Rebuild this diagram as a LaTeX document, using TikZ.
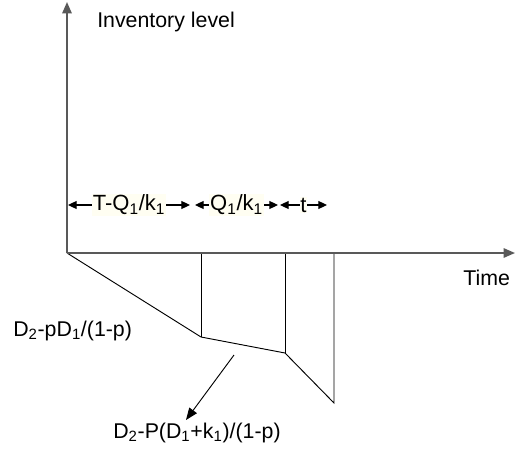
\documentclass[tikz,border=0pt]{standalone}
\usepackage{fontspec}
\setmainfont{Liberation Sans}
\usetikzlibrary{arrows.meta}
\tikzset{
  axis/.style={draw=black!65, line width=1.3pt, -{Triangle[length=8.5pt,width=7pt]}},
  curve/.style={draw=black, line width=0.7pt},
  dim/.style={line width=0.8pt, {Triangle[length=6.5pt,width=6pt]}-{Triangle[length=6.5pt,width=6pt]}},
  dimlabel/.style={fill=yellow!5, inner sep=0.5pt, font=\fontsize{16.5}{19}\selectfont},
  lbl/.style={font=\fontsize{16}{19}\selectfont, inner sep=0pt}
}
\begin{document}
\begin{tikzpicture}[x=0.75pt, y=-0.75pt]
\useasboundingbox (0,0) rectangle (520,456);
\coordinate (O) at (67,253);
\coordinate (ytop) at (67,2);
\coordinate (xend) at (515,253);
\coordinate (a) at (201,337);
\coordinate (b) at (285,353);
\coordinate (c) at (334,403);
\coordinate (a0) at (201,253);
\coordinate (b0) at (285,253);
\coordinate (c0) at (334,253);
\draw[curve] (O) -- (a) -- (b) -- (c) -- (c0);
\draw[curve] (a0) -- (a);
\draw[curve] (b0) -- (b);
\draw[axis] (O) -- (ytop);
\draw[axis] (O) -- (xend);
\node[lbl, anchor=base west] (ylabel) at (97,28) {Inventory level};
\node[lbl, anchor=base west] (xlabel) at (463,285) {Time};
\node[lbl, anchor=base west] (slope1) at (13,336) {D\textsubscript{2}-pD\textsubscript{1}/(1-p)};
\node[lbl, anchor=base west] (slope2) at (113,438) {D\textsubscript{2}-P(D\textsubscript{1}+k\textsubscript{1})/(1-p)};
\coordinate (s2from) at (234,355);
\coordinate (s2to) at (186,420);
\draw[line width=0.7pt, -{Triangle[length=9pt,width=7pt]}] (s2from) -- (s2to);
\coordinate (d0) at (68,205);
\coordinate (d1) at (190,205);
\coordinate (d2) at (195,205);
\coordinate (d3) at (278,205);
\coordinate (d4) at (280,205);
\coordinate (d5) at (327,205);
\draw[dim] (d0) -- node[dimlabel] {T-Q\textsubscript{1}/k\textsubscript{1}} (d1);
\draw[dim] (d2) -- node[dimlabel] {Q\textsubscript{1}/k\textsubscript{1}} (d3);
\draw[dim] (d4) -- node[dimlabel] {t} (d5);
\end{tikzpicture}
\end{document}
